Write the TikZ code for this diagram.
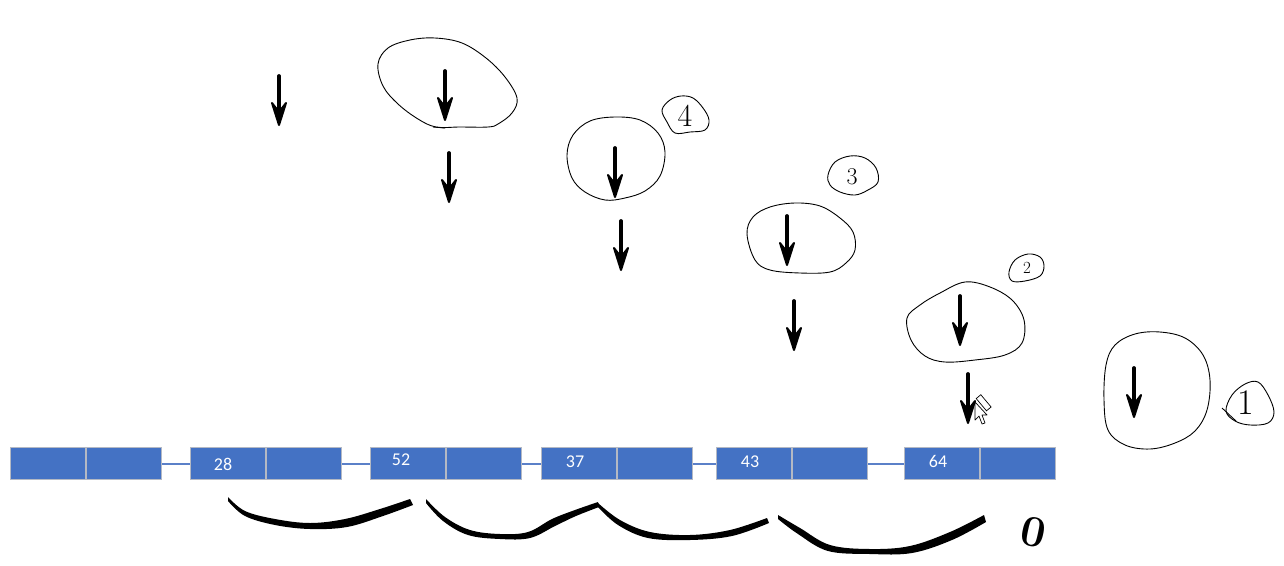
\documentclass[tikz,border=0pt]{standalone}
\usepackage{fontspec}
\newfontfamily\calib{Carlito}
\usetikzlibrary{positioning}
\definecolor{boxblue}{HTML}{4472C4}
\definecolor{boxgray}{HTML}{B4B9C4}
\definecolor{linkblue}{HTML}{5B80C8}
\tikzset{
  cell/.style={rectangle, fill=boxblue, draw=boxgray, line width=1pt, minimum width=75pt, minimum height=32pt, inner sep=0pt, anchor=north west},
  lbl/.style={text=white, font=\calib\fontsize{18}{18}\selectfont, inner sep=0pt},
  link/.style={draw=linkblue, line width=2pt},
  ink/.style={draw=black, line width=0.9pt, line join=round},
  digit/.style={inner sep=0pt, text=black},
  harrow/.pic={
    \draw[line width=3.8pt, line cap=round] (0,0) -- (0,44);
    \fill[line width=2pt, draw=black, line join=round] (-7,27) -- (0,49) -- (7,27) -- (0,36) -- cycle;
  }
}
\begin{document}
\begin{tikzpicture}[x=1pt,y=-1pt]
\useasboundingbox (0,0) rectangle (1284,565);
\fill[white] (0,0) rectangle (1284,565);

% ---- linked list cells ----
\node[cell] (c1a) at (10,447) {};
\node[cell, right=0pt of c1a] (c1b) {};
\node[cell] (c2a) at (190,447) {};
\node[cell, right=0pt of c2a] (c2b) {};
\node[cell] (c3a) at (370,447) {};
\node[cell, right=0pt of c3a] (c3b) {};
\node[cell] (c4a) at (541,447) {};
\node[cell, right=0pt of c4a] (c4b) {};
\node[cell] (c5a) at (716,447) {};
\node[cell, right=0pt of c5a] (c5b) {};
\node[cell] (c6a) at (904,447) {};
\node[cell, right=0pt of c6a] (c6b) {};

\draw[link] (c1b.east) -- (c2a.west);
\draw[link] (c2b.east) -- (c3a.west);
\draw[link] (c3b.east) -- (c4a.west);
\draw[link] (c4b.east) -- (c5a.west);
\draw[link] (c5b.east) -- (c6a.west);

\node[lbl] (l28) at (223,464) {28};
\node[lbl] (l52) at (401,460) {52};
\node[lbl] (l37) at (575,462) {37};
\node[lbl] (l43) at (750,462) {43};
\node[lbl] (l64) at (938,461) {64};

% ---- hand-drawn arrows ----
\pic at (279,76) {harrow};
\pic at (445,71) {harrow};
\pic at (449,153) {harrow};
\pic at (615,148) {harrow};
\pic at (621,221) {harrow};
\pic at (787,216) {harrow};
\pic at (794,301) {harrow};
\pic at (960,296) {harrow};
\pic at (968,374) {harrow};
\pic at (1134,368) {harrow};

% ---- hand-drawn loops ----
\draw[ink] plot[smooth cycle, tension=0.6] coordinates {(378,64) (388,48) (410,40) (435,38) (462,43) (486,58) (505,77) (517,98) (512,113) (498,124) (488,127) (460,127) (436,127) (418,119) (398,104) (383,86)};
\draw[ink] (433,127) -- (445,128);
\draw[ink] plot[smooth cycle, tension=0.6] coordinates {(567,155) (573,135) (590,121) (615,117) (640,120) (658,133) (665,152) (660,176) (645,191) (625,198) (605,200) (585,192) (572,178)};
\draw[ink] plot[smooth cycle, tension=0.6] coordinates {(747,234) (753,217) (770,207) (795,203) (820,206) (840,218) (853,232) (855,250) (846,263) (830,272) (800,273) (770,270) (755,260)};
\draw[ink] plot[smooth cycle, tension=0.6] coordinates {(907,318) (920,305) (940,293) (965,282) (990,287) (1012,300) (1024,320) (1022,343) (1005,355) (975,360) (945,362) (925,356) (911,340)};
\draw[ink] plot[smooth cycle, tension=0.6] coordinates {(1106,365) (1115,345) (1135,334) (1160,332) (1185,338) (1203,355) (1210,380) (1207,410) (1195,431) (1175,443) (1150,449) (1125,445) (1108,430) (1104,400)};

% small numbered loops
\draw[ink] plot[smooth cycle, tension=0.6] coordinates {(662,110) (670,100) (681,96) (693,98) (703,108) (709,120) (705,130) (690,132) (675,133) (667,122)};
\node[digit, font=\fontsize{32}{32}\selectfont] (d4) at (685,116) {4};
\draw[ink] plot[smooth cycle, tension=0.6] coordinates {(828,175) (835,162) (850,156) (865,158) (876,168) (878,182) (868,190) (855,195) (840,192) (830,185)};
\node[digit, font=\fontsize{24}{24}\selectfont] (d3) at (852,177) {3};
\draw[ink] plot[smooth cycle, tension=0.6] coordinates {(1009,272) (1015,260) (1028,254) (1040,257) (1044,266) (1040,276) (1025,281) (1012,281)};
\node[digit, font=\fontsize{17}{17}\selectfont] (d2) at (1027,268) {2};
\draw[ink] plot[smooth cycle, tension=0.6] coordinates {(1226,411) (1232,395) (1245,384) (1258,382) (1268,395) (1274,412) (1268,423) (1250,425) (1235,421)};
\draw[ink] (1222,408) -- (1236,421);
\node[digit, font=\fontsize{36}{36}\selectfont] (d1) at (1246,403) {1};
\node[digit, rotate=-12, font=\bfseries\fontsize{44}{44}\selectfont] (d0) at (1034,532) {0};

% ---- brush strokes ----
\fill plot[smooth, tension=0.6] coordinates {(228,497) (245,511) (275,519) (310,523) (345,519) (380,509) (410,499)}
  -- plot[smooth, tension=0.6] coordinates {(413,505) (383,516) (347,527) (310,529) (275,525) (245,516) (228,501)} -- cycle;
\fill plot[smooth, tension=0.6] coordinates {(426,499) (445,517) (470,530) (500,534) (528,532) (552,519) (575,510) (598,502)}
  -- plot[smooth, tension=0.6] coordinates {(599,507) (576,516) (555,526) (530,538) (500,539) (468,535) (443,521) (426,503)} -- cycle;
\fill plot[smooth, tension=0.6] coordinates {(598,503) (620,520) (650,532) (690,535) (730,530) (767,518)}
  -- plot[smooth, tension=0.6] coordinates {(769,523) (732,536) (690,540) (648,538) (618,525) (598,507)} -- cycle;
\fill plot[smooth, tension=0.6] coordinates {(778,515) (800,528) (830,545) (870,549) (910,546) (950,532) (984,515)}
  -- plot[smooth, tension=0.6] coordinates {(986,522) (952,540) (912,553) (870,554) (828,551) (798,534) (778,519)} -- cycle;

% ---- mouse cursor with pen ----
\draw[fill=white, line width=0.7pt, line join=round] (975,402) -- (975,420) -- (979,416) -- (982,424) -- (985,423) -- (982,415) -- (987,415) -- cycle;
\draw[fill=white, line width=0.7pt, rotate around={-50:(983,402)}] (976,399) rectangle (992,405);
\end{tikzpicture}
\end{document}
